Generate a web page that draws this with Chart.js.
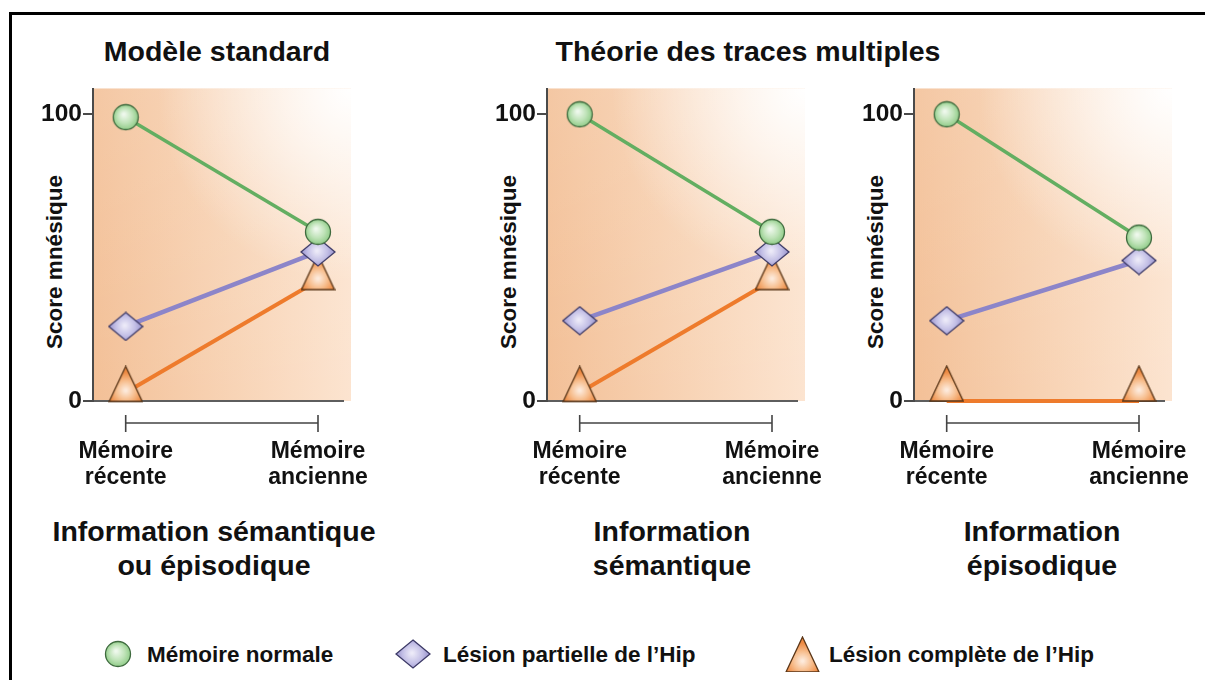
<!DOCTYPE html>
<html>
<head>
<meta charset="utf-8">
<script src="https://cdn.jsdelivr.net/npm/chart.js@4.4.1/dist/chart.umd.min.js"></script>
<style>
  html, body { margin: 0; padding: 0; }
  body { width: 1205px; height: 680px; background: #fff; position: relative; overflow: hidden;
         font-family: 'Liberation Sans', Arial, sans-serif; font-weight: bold; color: #111; }
  .frame { position: absolute; left: 9px; top: 12px; width: 1220px; height: 700px;
           border-top: 3px solid #000; border-left: 3px solid #000; }
  .t { position: absolute; white-space: nowrap; transform: translate(-50%, -50%); text-align: center; }
  .title { font-size: 28.5px; }
  .sub { font-size: 28.5px; line-height: 34px; }
  .ytitle { position: absolute; white-space: nowrap; font-size: 22.5px;
            transform: translate(-50%, -50%) rotate(-90deg); }
  .leg { position: absolute; font-size: 22.5px; white-space: nowrap; transform: translateY(-50%); }
  canvas { position: absolute; }
</style>
</head>
<body>
<div class="frame"></div>
<div id="labels"></div>
<canvas id="p1"></canvas>
<canvas id="p2"></canvas>
<canvas id="p3"></canvas>
<script>
// ---------- data ----------
const categories = [['Mémoire', 'récente'], ['Mémoire', 'ancienne']];
const seriesNames = ['Mémoire normale', 'Lésion partielle de l’Hip', 'Lésion complète de l’Hip'];
const yTicks = [0, 100];
const yAxisTitle = 'Score mnésique';
const groupTitles = ['Modèle standard', 'Théorie des traces multiples'];
const panelSubtitles = [
  ['Information sémantique', 'ou épisodique'],
  ['Information', 'sémantique'],
  ['Information', 'épisodique']
];
const standardNormal   = [99, 59];
const standardPartial  = [26, 52];
const standardComplete = [3, 42];
const semanticNormal   = [100, 59];
const semanticPartial  = [28, 52];
const semanticComplete = [3, 42];
const episodicNormal   = [100, 57];
const episodicPartial  = [28, 49];
const episodicComplete = [0, 0];

// ---------- marker images ----------
function makeCircle() {
  const c = document.createElement('canvas'); c.width = 28; c.height = 28;
  const x = c.getContext('2d');
  const g = x.createRadialGradient(12, 11, 1, 14, 14, 13);
  g.addColorStop(0, '#eef8ec'); g.addColorStop(0.55, '#bfe3b8'); g.addColorStop(1, '#8ecb86');
  x.beginPath(); x.arc(14, 14, 12.5, 0, Math.PI * 2); x.fillStyle = g; x.fill();
  x.lineWidth = 1.3; x.strokeStyle = '#3e6a3e'; x.stroke();
  return c;
}
function makeDiamond() {
  const c = document.createElement('canvas'); c.width = 36; c.height = 30;
  const x = c.getContext('2d');
  const g = x.createRadialGradient(17, 14, 1, 18, 15, 17);
  g.addColorStop(0, '#eceaf8'); g.addColorStop(0.55, '#c3bfe6'); g.addColorStop(1, '#9791cc');
  x.beginPath(); x.moveTo(18, 1); x.lineTo(35, 15); x.lineTo(18, 29); x.lineTo(1, 15); x.closePath();
  x.fillStyle = g; x.fill(); x.lineWidth = 1.3; x.strokeStyle = '#3c3966'; x.stroke();
  return c;
}
function makeTriangle(anchor) {
  // triangle apex at y=1, base at y=36; the data point sits at "anchor" px from the top
  const c = document.createElement('canvas'); c.width = 35; c.height = anchor * 2;
  const x = c.getContext('2d');
  const g = x.createRadialGradient(17.5, 25, 1, 17.5, 25, 18);
  g.addColorStop(0, '#fdeadb'); g.addColorStop(0.5, '#f7be8e'); g.addColorStop(1, '#ee8a42');
  x.beginPath(); x.moveTo(17.5, 1); x.lineTo(34, 36); x.lineTo(1, 36); x.closePath();
  x.fillStyle = g; x.fill(); x.lineWidth = 1.3; x.strokeStyle = '#5a3618'; x.stroke();
  return c;
}
const circleImg = makeCircle();
const diamondImg = makeDiamond();
const triMid = makeTriangle(27);
const triBase = makeTriangle(36);

// ---------- plugins ----------
const bgPlugin = {
  id: 'bg',
  beforeDraw(chart) {
    const { ctx, chartArea: a } = chart;
    const w = a.right - a.left + 8, h = a.bottom - a.top;
    ctx.save();
    const g = ctx.createLinearGradient(a.left, 0, a.left + w, 0);
    g.addColorStop(0, '#f3c097'); g.addColorStop(0.55, '#f8d4b6'); g.addColorStop(1, '#fce4d0');
    ctx.fillStyle = g; ctx.fillRect(a.left, a.top, w, h);
    const v = ctx.createLinearGradient(0, a.top, 0, a.bottom);
    v.addColorStop(0, 'rgba(255,255,255,0.12)'); v.addColorStop(1, 'rgba(255,255,255,0)');
    ctx.fillStyle = v; ctx.fillRect(a.left, a.top, w, h);
    const r = ctx.createRadialGradient(a.left + w, a.top, 0, a.left + w, a.top, w * 0.75);
    r.addColorStop(0, 'rgba(255,255,255,1)'); r.addColorStop(0.3, 'rgba(255,255,255,0.7)');
    r.addColorStop(1, 'rgba(255,255,255,0)');
    ctx.fillStyle = r; ctx.fillRect(a.left, a.top, w, h);
    ctx.restore();
  }
};
const bracketPlugin = {
  id: 'bracket',
  afterDraw(chart) {
    const { ctx, chartArea: a, scales: { x } } = chart;
    const x0 = x.getPixelForValue(0), x1 = x.getPixelForValue(1), y = a.bottom + 22;
    ctx.save();
    ctx.strokeStyle = '#444'; ctx.lineWidth = 1.6;
    ctx.beginPath();
    ctx.moveTo(x0, y); ctx.lineTo(x1, y);
    ctx.moveTo(x0, y - 8); ctx.lineTo(x0, y + 9);
    ctx.moveTo(x1, y - 8); ctx.lineTo(x1, y + 9);
    ctx.stroke();
    ctx.restore();
  }
};

// ---------- panels ----------
const FONT = "'Liberation Sans', Arial, sans-serif";
function makePanel(id, left, right, normal, partial, complete, triImg) {
  const cv = document.getElementById(id);
  const yW = 63, top = 70, areaTop = 86, areaBottom = 401, rightPad = 36, h = 440;
  const w = right - left + yW + rightPad;
  cv.width = w; cv.height = h;
  cv.style.left = (left - yW) + 'px'; cv.style.top = top + 'px';
  cv.style.width = w + 'px'; cv.style.height = h + 'px';
  const pts = arr => arr.map((v, i) => ({ x: i, y: v }));
  new Chart(cv, {
    type: 'line',
    data: {
      datasets: [
        { label: seriesNames[0], data: pts(normal), borderColor: '#63ae61', borderWidth: 3.5,
          pointStyle: circleImg, pointRadius: 13, pointHoverRadius: 13, clip: false, order: 0 },
        { label: seriesNames[1], data: pts(partial), borderColor: '#8c85c9', borderWidth: 4.5,
          pointStyle: diamondImg, pointRadius: 14, pointHoverRadius: 14, clip: false, order: 1 },
        { label: seriesNames[2], data: pts(complete), borderColor: '#ee7b2c', borderWidth: 4,
          pointStyle: triImg, pointRadius: 14, pointHoverRadius: 14, clip: false, order: 2 }
      ]
    },
    options: {
      responsive: false, animation: false, devicePixelRatio: 1,
      events: [],
      layout: { padding: { top: areaTop - top, right: rightPad, left: 0, bottom: 0 } },
      plugins: { legend: { display: false }, tooltip: { enabled: false } },
      scales: {
        x: {
          type: 'linear', min: -0.17, max: 1.13,
          afterBuildTicks: s => { s.ticks = categories.map((c, i) => ({ value: i })); },
          afterFit: s => { s.height = top + h - areaBottom; s.paddingLeft = 0; s.paddingRight = 0; },
          grid: { display: false, drawTicks: false },
          border: { display: true, color: '#5e5e5e', width: 2 },
          ticks: {
            autoSkip: false, maxRotation: 0, padding: 38, color: '#111',
            font: { family: FONT, size: 23, weight: 'bold', lineHeight: 1.13 },
            callback: v => categories[v]
          }
        },
        y: {
          type: 'linear', min: 0, max: 109,
          afterBuildTicks: s => { s.ticks = yTicks.map(v => ({ value: v })); },
          afterFit: s => { s.width = yW; s.paddingTop = 0; s.paddingBottom = 0; },
          grid: { display: true, drawOnChartArea: false, drawTicks: true, tickLength: 10,
                  color: '#4a4a4a', lineWidth: 2 },
          border: { display: true, color: '#4a4a4a', width: 2 },
          ticks: { padding: 1, color: '#111', font: { family: FONT, size: 24.5, weight: 'bold' } }
        }
      }
    },
    plugins: [bgPlugin, bracketPlugin]
  });
}
makePanel('p1', 93, 343, standardNormal, standardPartial, standardComplete, triMid);
makePanel('p2', 547, 797, semanticNormal, semanticPartial, semanticComplete, triMid);
makePanel('p3', 914, 1164, episodicNormal, episodicPartial, episodicComplete, triBase);

// ---------- text labels ----------
const L = document.getElementById('labels');
function addDiv(cls, html, x, y) {
  const d = document.createElement('div'); d.className = cls; d.innerHTML = html;
  d.style.left = x + 'px'; d.style.top = y + 'px'; L.appendChild(d); return d;
}
addDiv('t title', groupTitles[0], 217, 51);
addDiv('t title', groupTitles[1], 748, 51);
[214, 672, 1042].forEach((x, i) => addDiv('t sub', panelSubtitles[i].join('<br>'), x, 548));
[55, 509, 876].forEach(x => addDiv('ytitle', yAxisTitle, x, 262));

// legend
const legendIcons = [circleImg, diamondImg, makeTriangle(18)];
const iconX = [118, 413, 802];
const textX = [147, 443, 829];
legendIcons.forEach((img, i) => {
  const c = document.createElement('canvas');
  c.width = img.width; c.height = img.height;
  c.getContext('2d').drawImage(img, 0, 0);
  c.style.left = (iconX[i] - img.width / 2) + 'px';
  c.style.top = (654 - img.height / 2) + 'px';
  document.body.appendChild(c);
  addDiv('leg', seriesNames[i], textX[i], 655);
});
</script>
</body>
</html>
